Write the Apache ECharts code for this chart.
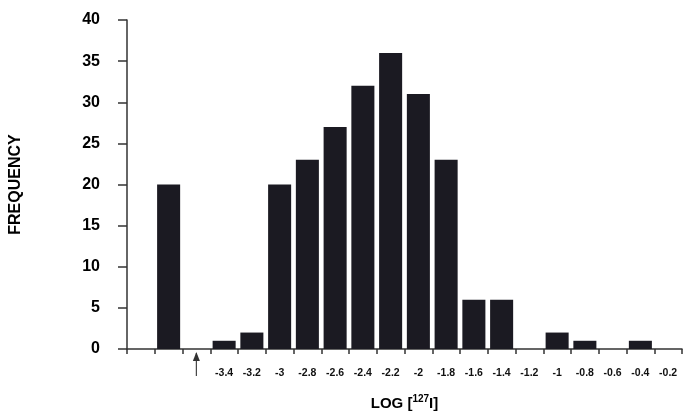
<!DOCTYPE html>
<html>
<head>
<meta charset="utf-8">
<script src="https://cdn.jsdelivr.net/npm/echarts@6/dist/echarts.min.js"></script>
<style>html,body{margin:0;padding:0;background:#fff;}#c{width:683px;height:416px;}</style>
</head>
<body>
<div id="c"></div>
<script>
// categories (first three have no printed label)
var categories = ['c0', 'c1', 'c2', '-3.4', '-3.2', '-3', '-2.8', '-2.6', '-2.4', '-2.2', '-2', '-1.8', '-1.6', '-1.4', '-1.2', '-1', '-0.8', '-0.6', '-0.4', '-0.2'];
var tickLabels = ['', '', '', '-3.4', '-3.2', '-3', '-2.8', '-2.6', '-2.4', '-2.2', '-2', '-1.8', '-1.6', '-1.4', '-1.2', '-1', '-0.8', '-0.6', '-0.4', '-0.2'];
var frequency = [0, 20, 0, 1, 2, 20, 23, 27, 32, 36, 31, 23, 6, 6, 0, 2, 1, 0, 1, 0];
var arrowCategory = 'c2';
var yTicks = [0, 5, 10, 15, 20, 25, 30, 35, 40];

var chart = echarts.init(document.getElementById('c'), null, {renderer: 'canvas'});
var FONT = '"Liberation Sans", Arial, Helvetica, sans-serif';
chart.setOption({
  animation: false,
  backgroundColor: '#ffffff',
  grid: {left: 127, right: 1, top: 20, bottom: 58, containLabel: false},
  xAxis: {
    type: 'category',
    data: categories,
    boundaryGap: true,
    axisLine: {lineStyle: {color: '#333', width: 1.5}},
    axisTick: {show: true, length: 5, lineStyle: {color: '#333', width: 1.5}},
    axisLabel: {
      margin: 19,
      fontFamily: FONT, fontWeight: 'bold', fontSize: 10.5, color: '#111',
      interval: 0,
      formatter: function (v, i) { return tickLabels[i]; }
    },
    name: 'LOG [{sup|127}I]',
    nameLocation: 'middle',
    nameGap: 45,
    nameTextStyle: {
      fontFamily: FONT, fontWeight: 'bold', fontSize: 15, color: '#000',
      rich: {sup: {fontFamily: FONT, fontWeight: 'bold', fontSize: 10, color: '#000', padding: [0, 0, 9, 0]}}
    }
  },
  yAxis: {
    type: 'value',
    min: yTicks[0], max: yTicks[yTicks.length - 1], interval: 5,
    splitLine: {show: false},
    axisLine: {show: true, lineStyle: {color: '#333', width: 1.5}},
    axisTick: {show: true, length: 9, lineStyle: {color: '#333', width: 1.5}},
    axisLabel: {margin: 27, fontFamily: FONT, fontWeight: 'bold', fontSize: 16, color: '#000'},
    name: 'FREQUENCY',
    nameLocation: 'middle',
    nameRotate: 90,
    nameGap: 103,
    nameTextStyle: {fontFamily: FONT, fontWeight: 'bold', fontSize: 16, color: '#000'}
  },
  series: [{
    type: 'bar',
    data: frequency,
    barCategoryGap: '17%',
    itemStyle: {color: '#1b1a22'}
  }]
});

var ax = chart.convertToPixel({xAxisIndex: 0}, arrowCategory);
var y0 = chart.convertToPixel({yAxisIndex: 0}, 0);
chart.setOption({
  graphic: [{
    type: 'group',
    children: [
      {type: 'line', shape: {x1: ax, y1: y0 + 4, x2: ax, y2: y0 + 27}, style: {stroke: '#444', lineWidth: 1.2}},
      {type: 'polygon', shape: {points: [[ax, y0 + 3], [ax - 3.5, y0 + 12], [ax + 3.5, y0 + 12]]}, style: {fill: '#333'}}
    ]
  }]
});
</script>
</body>
</html>
